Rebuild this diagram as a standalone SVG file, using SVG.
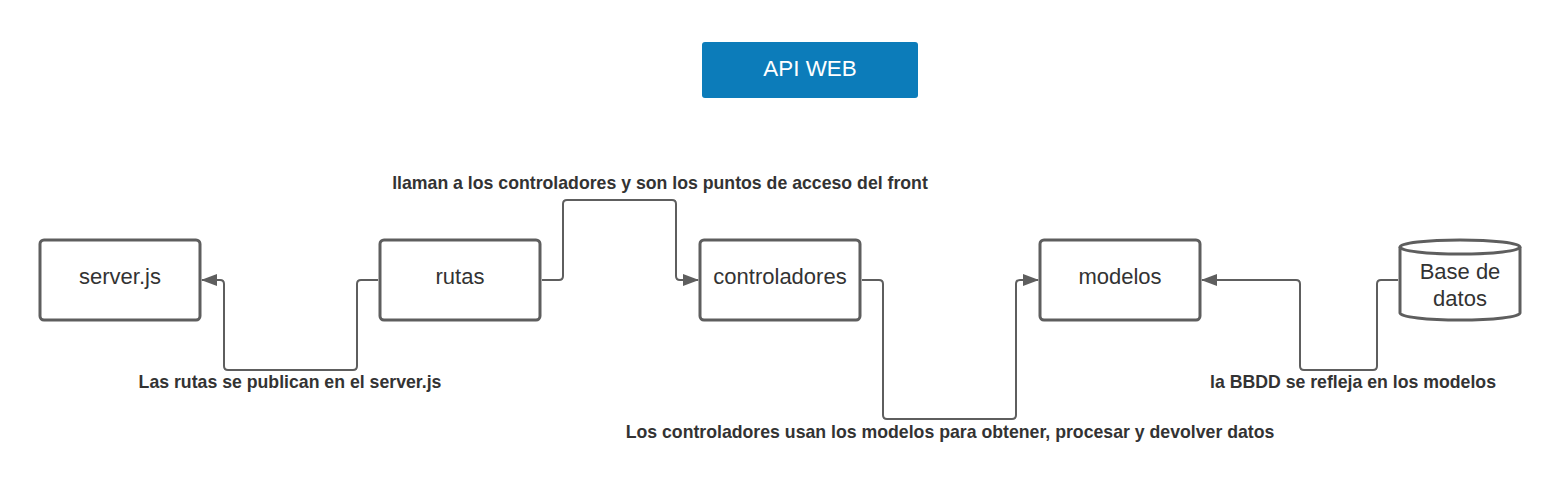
<svg xmlns="http://www.w3.org/2000/svg" width="1560" height="485" viewBox="0 0 1560 485">
<style>
.node{fill:#ffffff;stroke:#5e5e5e;stroke-width:3}
.ntext{font-family:"Liberation Sans",Arial,sans-serif;font-size:22px;fill:#333333;text-anchor:middle}
.conn{fill:none;stroke:#5e5e5e;stroke-width:2;stroke-linejoin:round}
.lbl{font-family:"Liberation Sans",Arial,sans-serif;font-size:17.7px;font-weight:bold;fill:#333333;text-anchor:middle}
</style>
<defs>
<marker id="arr" markerWidth="16" markerHeight="14" refX="15" refY="7" orient="auto" markerUnits="userSpaceOnUse">
<path d="M0,1 L16,7 L0,13 Z" fill="#5e5e5e"/>
</marker>
</defs>
<rect width="1560" height="485" fill="#ffffff"/>
<g id="api-web">
<rect x="702" y="42" width="216" height="56" rx="3" fill="#0c7cba"/>
<text x="810" y="76" font-family="'Liberation Sans',Arial,sans-serif" font-size="22.4" fill="#ffffff" text-anchor="middle">API WEB</text>
</g>
<g id="server">
<rect class="node" x="40" y="240" width="160" height="80" rx="4"/>
<text class="ntext" x="120" y="284">server.js</text>
</g>
<g id="rutas">
<rect class="node" x="380" y="240" width="160" height="80" rx="4"/>
<text class="ntext" x="460" y="284">rutas</text>
</g>
<g id="controladores">
<rect class="node" x="700" y="240" width="160" height="80" rx="4"/>
<text class="ntext" x="780" y="284">controladores</text>
</g>
<g id="modelos">
<rect class="node" x="1040" y="240" width="160" height="80" rx="4"/>
<text class="ntext" x="1120" y="284">modelos</text>
</g>
<g id="bbdd">
<path class="node" d="M1400,247 A60,7 0 0 1 1520,247 L1520,313 A60,7 0 0 1 1400,313 Z"/>
<path class="node" fill="none" d="M1400,247 A60,7 0 0 0 1520,247"/>
<text class="ntext" x="1460" y="279">Base de</text>
<text class="ntext" x="1460" y="306">datos</text>
</g>
<g id="connectors">
<path class="conn" d="M378,280 L361,280 Q357,280 357,284 L357,366 Q357,370 353,370 L228,370 Q224,370 224,366 L224,284 Q224,280 220,280 L202,280" marker-end="url(#arr)"/>
<path class="conn" d="M542,280 L559,280 Q563,280 563,276 L563,204 Q563,200 567,200 L672,200 Q676,200 676,204 L676,276 Q676,280 680,280 L698,280" marker-end="url(#arr)"/>
<path class="conn" d="M862,280 L879,280 Q883,280 883,284 L883,415 Q883,419 887,419 L1012,419 Q1016,419 1016,415 L1016,284 Q1016,280 1020,280 L1038,280" marker-end="url(#arr)"/>
<path class="conn" d="M1398,280 L1381,280 Q1377,280 1377,284 L1377,366 Q1377,370 1373,370 L1304,370 Q1300,370 1300,366 L1300,284 Q1300,280 1296,280 L1202,280" marker-end="url(#arr)"/>
</g>
<g id="labels">
<text class="lbl" x="660" y="189">llaman a los controladores y son los puntos de acceso del front</text>
<text class="lbl" x="290" y="388">Las rutas se publican en el server.js</text>
<text class="lbl" x="950" y="438">Los controladores usan los modelos para obtener, procesar y devolver datos</text>
<text class="lbl" x="1353" y="388">la BBDD se refleja en los modelos</text>
</g>
</svg>
